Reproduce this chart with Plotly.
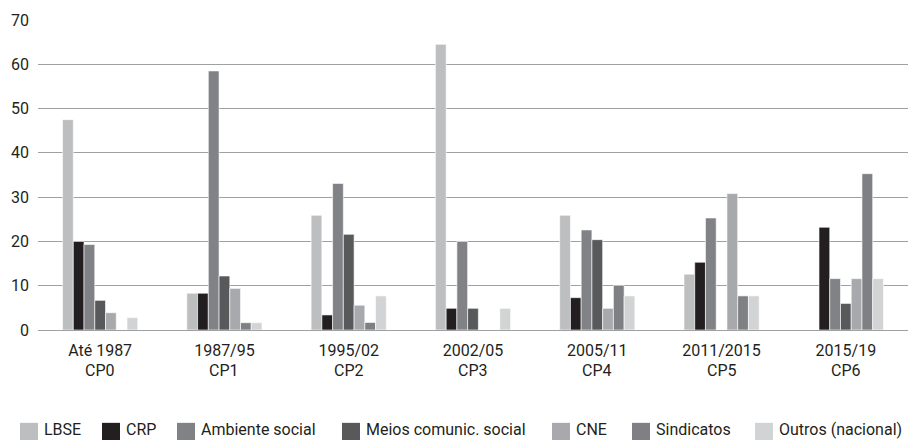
import plotly.graph_objects as go

periods = ["Até 1987", "1987/95", "1995/02", "2002/05", "2005/11", "2011/2015", "2015/19"]
codes = ["CP0", "CP1", "CP2", "CP3", "CP4", "CP5", "CP6"]

lbse = [47.5, 8.3, 25.9, 64.5, 25.9, 12.6, 0]
crp = [20.0, 8.3, 3.4, 4.9, 7.3, 15.3, 23.2]
ambiente = [19.3, 58.5, 33.1, 20.0, 22.6, 25.3, 11.6]
meios = [6.7, 12.2, 21.6, 4.9, 20.4, 0, 6.0]
cne = [3.9, 9.4, 5.6, 0, 4.9, 30.8, 11.6]
sindicatos = [0, 1.65, 1.7, 0, 10.1, 7.7, 35.3]
outros = [2.8, 1.65, 7.7, 4.9, 7.7, 7.7, 11.6]

series_names = ["LBSE", "CRP", "Ambiente social", "Meios comunic. social", "CNE", "Sindicatos", "Outros (nacional)"]
series_values = [lbse, crp, ambiente, meios, cne, sindicatos, outros]
colors = ["#bcbec0", "#231f20", "#808285", "#58595b", "#a7a9ac", "#7e8083", "#d1d3d4"]

yticks = [0, 10, 20, 30, 40, 50, 60, 70]

FONT = "Roboto, 'Open Sans', sans-serif"
TXT = "#231f20"

# layout geometry (pixels)
W, H = 910, 440
ML, MR, MT, MB = 38, 2, 19.5, 110
PW = W - ML - MR
PH = H - MT - MB


def px_to_paper_x(px):
    return (px - ML) / PW


def py_to_paper_y(py):
    return (H - MB - py) / PH


fig = go.Figure()
for name, vals, col in zip(series_names, series_values, colors):
    fig.add_trace(go.Bar(
        x=periods, y=vals, name=name, showlegend=False,
        marker=dict(color=col, line=dict(width=0.6, color="white")),
    ))

# second line of the category labels
for p, c in zip(periods, codes):
    fig.add_annotation(
        x=p, xref="x", y=py_to_paper_y(360), yref="paper",
        text=c, showarrow=False, yanchor="top", xanchor="center",
        font=dict(family=FONT, size=16, color=TXT),
        borderpad=0,
    )

# custom legend (swatch left edges, in pixels)
swatch_left = [20, 102, 177, 342, 552, 632, 755]
sw_w, sw_top, sw_bot = 18, 423, 441
for name, col, sx in zip(series_names, colors, swatch_left):
    fig.add_shape(
        type="rect", xref="paper", yref="paper",
        x0=px_to_paper_x(sx), x1=px_to_paper_x(sx + sw_w),
        y0=py_to_paper_y(sw_bot), y1=py_to_paper_y(sw_top),
        fillcolor=col, line=dict(width=0),
    )
    fig.add_annotation(
        x=px_to_paper_x(sx + sw_w + 5), xref="paper",
        y=py_to_paper_y(440), yref="paper",
        text=name, showarrow=False, xanchor="left", yanchor="bottom",
        font=dict(family=FONT, size=16, color=TXT),
        borderpad=0,
    )

fig.update_layout(
    width=W, height=H,
    margin=dict(l=ML, r=MR, t=MT, b=MB, autoexpand=False),
    paper_bgcolor="white", plot_bgcolor="white",
    barmode="group", bargap=0.395, bargroupgap=0,
    font=dict(family=FONT, size=16, color=TXT),
    showlegend=False,
)
fig.update_xaxes(
    showgrid=False, showline=False, zeroline=False, automargin=False,
    ticks="", ticklabelstandoff=9,
    tickfont=dict(family=FONT, size=16, color=TXT),
)
fig.update_yaxes(
    range=[0, 70], tickvals=yticks, ticktext=[str(v) for v in yticks],
    automargin=False,
    showgrid=True, gridcolor="#a0a0a0", gridwidth=1.2,
    zeroline=True, zerolinecolor="#a0a0a0", zerolinewidth=1.2,
    showline=False, ticks="", ticklabelstandoff=8,
    tickfont=dict(family=FONT, size=16, color=TXT),
)

fig.write_html("out.html")
